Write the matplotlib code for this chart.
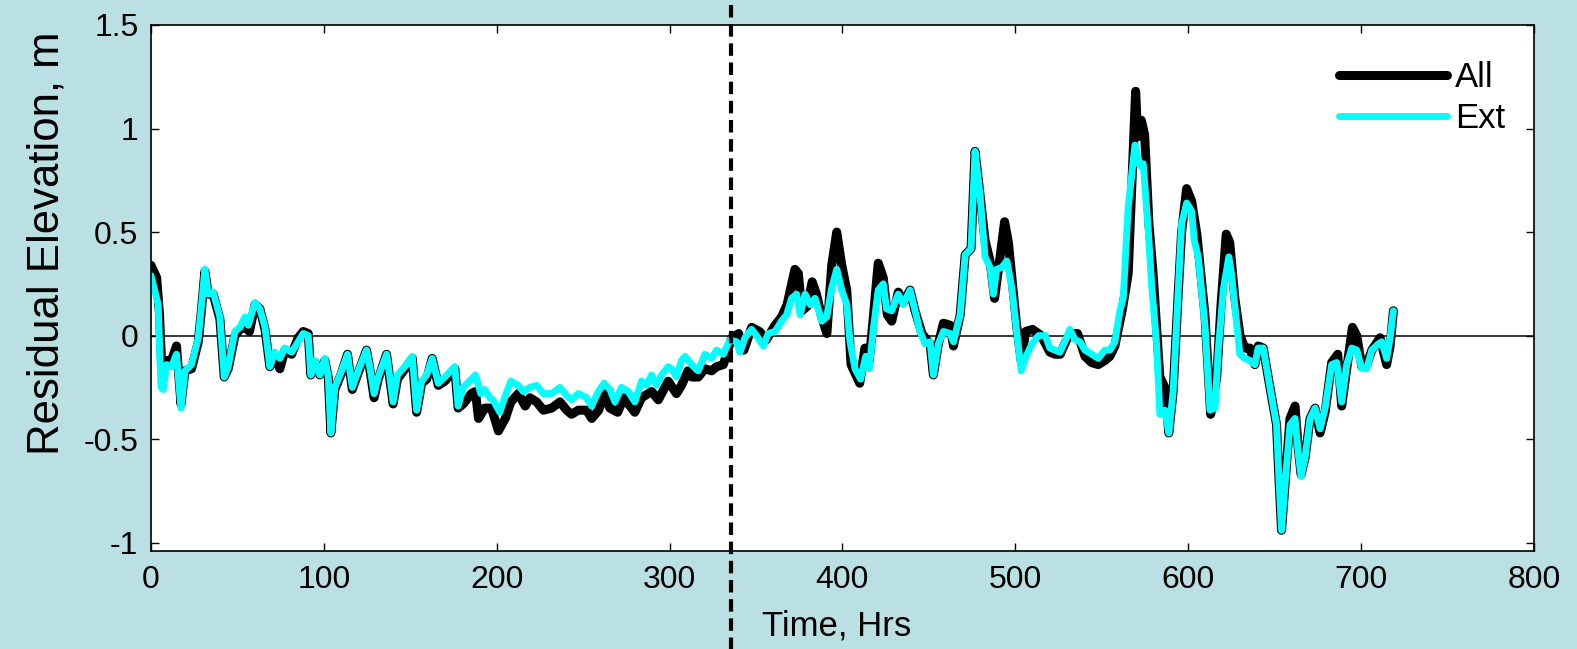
import matplotlib
matplotlib.use("Agg")
import matplotlib.pyplot as plt

plt.rcParams['font.family'] = ['Liberation Sans', 'DejaVu Sans']

# Ext series (hours, residual m)
ext_t = [0, 4.2, 5.8, 7.1, 9.0, 11.9, 14.8, 17.4, 19.7, 23.5, 27.4, 29.3, 31.2, 33.2, 36.0,
         39.9, 42.4, 44.7, 48.6, 51.5, 54.4, 56.3, 60.2, 63.0, 66.0, 68.8, 71.7, 74.6, 77.5,
         81.4, 85.2, 88.1, 91.0, 92.5, 94.9, 97.7, 100.6, 102.6, 104.1, 106.4, 110.3, 113.7,
         116.5, 119.9, 124.7, 126.6, 129.1, 131.5, 136.3, 138.2, 140.1, 142.6, 147.9, 151.2,
         153.7, 156.6, 159.5, 162.7, 166.2, 170.0, 175.8, 177.7, 180.6, 185.4, 187.7, 190.8,
         193.1, 196.0, 197.9, 201.8, 205.0, 208.2, 212.5, 215.4, 219.2, 223.1, 227.0, 231.8,
         236.6, 240.5, 243.3, 247.2, 252.0, 254.9, 258.8, 262.2, 265.5, 268.4, 272.2, 276.1,
         279.9, 283.8, 286.7, 289.6, 292.5, 295.4, 299.2, 301.1, 304.0, 306.9, 309.0, 312.7,
         316.6, 320.4, 324.3, 327.2, 331.1, 334.9, 338.8, 340.7, 343.6, 347.5, 350.3, 354.2,
         357.1, 361.0, 364.8, 367.7, 370.6, 373.5, 375.5, 378.4, 381.3, 384.2, 388.0, 390.9,
         393.8, 396.7, 399.6, 402.5, 404.4, 407.3, 410.5, 413.5, 415.5, 418.0, 420.7, 423.6,
         425.5, 428.5, 432.3, 435.2, 439.1, 442.0, 444.9, 447.8, 450.7, 452.6, 455.5, 458.4,
         462.3, 464.2, 468.1, 471.0, 474.4, 476.7, 479.6, 482.5, 485.4, 487.3, 489.2, 492.2,
         495.1, 498.0, 500.9, 503.4, 505.7, 509.6, 513.4, 517.3, 520.0, 522.9, 525.8, 528.6,
         531.6, 534.5, 537.4, 540.3, 544.1, 548.0, 551.8, 554.7, 557.6, 560.5, 562.4, 565.3,
         569.2, 572.1, 574.0, 576.9, 578.8, 581.7, 583.6, 586.5, 588.8, 591.3, 594.2, 596.2,
         599.1, 602.0, 603.5, 605.8, 609.7, 612.6, 615.5, 617.4, 620.3, 623.5, 625.0, 627.0,
         629.9, 632.8, 635.7, 638.6, 640.5, 643.4, 647.3, 651.1, 652.5, 654.0, 656.0, 658.9,
         661.8, 663.7, 665.3, 667.6, 670.5, 673.4, 676.3, 679.2, 683.0, 685.9, 688.8, 691.7,
         694.6, 697.5, 700.4, 703.3, 706.2, 710.0, 712.0, 714.8, 716.8, 718.7]
ext_v = [0.29, 0.15, -0.25, -0.26, -0.14, -0.15, -0.09, -0.35, -0.17, -0.14, -0.01, 0.15, 0.32,
         0.20, 0.21, 0.09, -0.20, -0.15, 0.02, 0.04, 0.09, 0.05, 0.16, 0.13, 0.04, -0.15, -0.08,
         -0.11, -0.06, -0.08, -0.03, 0.01, 0.0, -0.19, -0.12, -0.19, -0.11, -0.20, -0.47, -0.25,
         -0.17, -0.09, -0.25, -0.17, -0.07, -0.15, -0.28, -0.20, -0.09, -0.20, -0.32, -0.19,
         -0.14, -0.10, -0.36, -0.22, -0.19, -0.11, -0.23, -0.20, -0.15, -0.34, -0.25, -0.21,
         -0.19, -0.28, -0.26, -0.30, -0.31, -0.37, -0.29, -0.22, -0.24, -0.27, -0.25, -0.24,
         -0.28, -0.28, -0.25, -0.29, -0.31, -0.28, -0.30, -0.34, -0.27, -0.23, -0.26, -0.32,
         -0.25, -0.27, -0.32, -0.22, -0.24, -0.19, -0.24, -0.19, -0.15, -0.16, -0.20, -0.12,
         -0.10, -0.14, -0.17, -0.09, -0.11, -0.07, -0.09, -0.02, -0.03, -0.08, -0.01, 0.03, 0.0,
         -0.05, 0.01, 0.02, 0.07, 0.10, 0.18, 0.20, 0.10, 0.20, 0.15, 0.18, 0.07, 0.09, 0.23,
         0.32, 0.22, 0.15, -0.03, -0.16, -0.21, -0.10, -0.16, 0.04, 0.22, 0.25, 0.13, 0.12,
         0.20, 0.15, 0.22, 0.12, 0.02, -0.04, -0.03, -0.19, -0.04, 0.02, 0.01, -0.03, 0.10,
         0.39, 0.42, 0.89, 0.68, 0.38, 0.33, 0.20, 0.32, 0.33, 0.36, 0.23, 0.01, -0.17, -0.11,
         -0.04, 0.0, 0.0, -0.06, -0.07, -0.08, -0.03, 0.03, -0.02, -0.03, -0.07, -0.09, -0.11,
         -0.07, -0.07, -0.03, 0.12, 0.18, 0.62, 0.92, 0.82, 0.83, 0.51, 0.25, -0.04, -0.38,
         -0.36, -0.47, -0.27, 0.21, 0.54, 0.64, 0.60, 0.46, 0.38, 0.05, -0.36, -0.35, -0.07,
         0.22, 0.38, 0.30, 0.14, -0.09, -0.11, -0.12, -0.14, -0.06, -0.06, -0.25, -0.43, -0.69,
         -0.94, -0.72, -0.43, -0.40, -0.57, -0.68, -0.59, -0.40, -0.35, -0.45, -0.35, -0.14,
         -0.13, -0.32, -0.14, -0.06, -0.07, -0.16, -0.16, -0.07, -0.04, -0.03, -0.11, -0.01, 0.12]

# All series
all_t = [0, 3.3, 5.0, 6.2, 9.0, 11.9, 14.8, 17.4, 19.7, 23.5, 27.4, 29.3, 31.2, 33.2, 36.0,
         39.9, 42.4, 44.7, 48.6, 51.5, 54.4, 57.0, 60.2, 63.0, 66.0, 68.8, 71.7, 74.6, 77.5,
         81.4, 85.2, 88.1, 91.0, 92.5, 94.9, 97.7, 100.6, 102.6, 104.1, 106.4, 110.3, 113.7,
         116.5, 119.9, 124.7, 126.6, 129.1, 131.5, 136.3, 138.2, 140.1, 142.6, 147.9, 151.2,
         153.7, 156.6, 159.5, 162.7, 166.2, 170.0, 175.8, 177.7, 180.6, 185.4, 187.7, 189.5,
         193.1, 197.0, 201.0, 205.0, 208.2, 212.5, 216.5, 219.2, 223.1, 227.0, 231.8, 236.6,
         240.5, 243.3, 247.2, 252.0, 255.0, 259.0, 262.0, 265.5, 270.0, 273.5, 279.9, 283.8,
         289.6, 293.5, 299.2, 304.0, 306.9, 310.7, 313.0, 316.6, 320.4, 324.3, 327.2, 331.1,
         333.0, 336.0, 340.0, 343.0, 347.5, 352.0, 356.0, 361.0, 364.8, 368.0, 372.5, 374.5,
         376.5, 379.5, 382.5, 385.0, 388.0, 391.0, 393.8, 396.7, 399.6, 402.5, 405.0, 410.0,
         413.0, 415.5, 418.0, 420.7, 423.6, 426.0, 428.5, 432.3, 435.2, 439.1, 442.0, 446.0,
         450.7, 452.6, 455.5, 458.4, 462.3, 464.2, 468.1, 471.0, 474.4, 476.7, 479.6, 482.5,
         485.4, 488.0, 491.5, 493.8, 496.0, 498.0, 500.9, 503.4, 506.0, 510.0, 515.0, 520.0,
         523.0, 526.0, 528.6, 531.6, 536.0, 540.3, 544.1, 548.0, 551.8, 554.7, 557.6, 562.0,
         565.3, 568.0, 569.6, 570.8, 572.9, 574.8, 577.3, 579.7, 583.6, 586.5, 588.8, 591.3,
         594.2, 596.2, 599.1, 602.0, 605.0, 609.7, 613.0, 616.5, 619.0, 622.0, 624.0, 627.0,
         630.0, 632.8, 635.7, 638.6, 640.5, 643.4, 647.3, 651.1, 652.5, 654.0, 656.0, 658.9,
         661.8, 663.7, 665.3, 667.6, 670.5, 673.4, 676.3, 679.2, 683.0, 686.5, 688.8, 691.7,
         695.0, 697.5, 700.4, 703.3, 706.2, 711.0, 714.8, 716.8, 718.7]
all_v = [0.34, 0.28, 0.10, -0.14, -0.12, -0.12, -0.05, -0.33, -0.17, -0.16, -0.03, 0.13, 0.31,
         0.20, 0.20, 0.08, -0.20, -0.16, 0.0, 0.03, 0.04, 0.02, 0.15, 0.13, 0.03, -0.15, -0.10,
         -0.16, -0.07, -0.09, -0.01, 0.02, 0.01, -0.19, -0.13, -0.19, -0.12, -0.20, -0.47, -0.26,
         -0.18, -0.09, -0.26, -0.18, -0.07, -0.16, -0.30, -0.21, -0.09, -0.21, -0.33, -0.21,
         -0.15, -0.11, -0.37, -0.23, -0.21, -0.11, -0.24, -0.22, -0.16, -0.35, -0.33, -0.28,
         -0.27, -0.40, -0.35, -0.35, -0.46, -0.40, -0.32, -0.28, -0.34, -0.30, -0.32, -0.36,
         -0.35, -0.32, -0.36, -0.38, -0.36, -0.36, -0.40, -0.36, -0.28, -0.35, -0.37, -0.30,
         -0.37, -0.30, -0.27, -0.31, -0.22, -0.28, -0.24, -0.17, -0.20, -0.20, -0.16, -0.17,
         -0.15, -0.14, -0.09, -0.01, 0.01, -0.07, 0.04, 0.02, -0.02, 0.05, 0.09, 0.15, 0.32,
         0.30, 0.12, 0.14, 0.26, 0.20, 0.09, 0.01, 0.34, 0.50, 0.34, 0.22, -0.14, -0.23, -0.06,
         -0.12, 0.10, 0.35, 0.28, 0.10, 0.07, 0.21, 0.16, 0.22, 0.12, 0.01, -0.04, -0.19, -0.04,
         0.06, 0.05, -0.05, 0.10, 0.39, 0.42, 0.89, 0.68, 0.46, 0.36, 0.18, 0.40, 0.55, 0.45,
         0.28, 0.04, -0.12, 0.02, 0.03, 0.0, -0.08, -0.09, -0.09, -0.04, 0.01, 0.01, -0.10,
         -0.13, -0.14, -0.12, -0.10, -0.05, 0.13, 0.30, 0.86, 1.18, 0.96, 1.04, 0.97, 0.54,
         0.30, -0.20, -0.25, -0.47, -0.27, 0.20, 0.50, 0.71, 0.65, 0.49, 0.10, -0.38, -0.20,
         0.15, 0.49, 0.45, 0.18, 0.0, -0.06, -0.06, -0.14, -0.05, -0.06, -0.25, -0.43, -0.69,
         -0.94, -0.72, -0.40, -0.34, -0.55, -0.67, -0.59, -0.40, -0.35, -0.47, -0.37, -0.13,
         -0.09, -0.34, -0.16, 0.04, 0.0, -0.15, -0.14, -0.07, -0.01, -0.14, -0.05, 0.12]

split_hr = 335.5
bg = '#BAE0E3'

fig = plt.figure(figsize=(15.77, 6.49), dpi=100, facecolor=bg)
ax = fig.add_axes([0.0957, 0.151, 0.877, 0.8105])
ax.set_facecolor('white')

ax.plot(all_t, all_v, color='black', lw=6.5, solid_joinstyle='round', solid_capstyle='round', label='All')
ax.plot(ext_t, ext_v, color='#00FFFF', lw=5.0, solid_joinstyle='round', solid_capstyle='round', label='Ext')
ax.axhline(0, color='black', lw=1.1, zorder=1)
ax.axvline(split_hr, ymin=-0.2, ymax=1.1, color='black', lw=3, ls=(0, (3, 1.6)), clip_on=False)

ax.set_xlim(0, 800)
ax.set_ylim(-1.04, 1.5)
ax.set_xticks([0, 100, 200, 300, 400, 500, 600, 700, 800])
ax.set_yticks([-1, -0.5, 0, 0.5, 1, 1.5])
ax.set_yticklabels(['-1', '-0.5', '0', '0.5', '1', '1.5'])
ax.tick_params(direction='in', top=True, right=True, length=6, width=1, labelsize=23)
ax.tick_params(axis='x', pad=10)
ax.tick_params(axis='y', pad=9)
for s in ax.spines.values():
    s.set_linewidth(1.2)

ax.set_xlabel('Time, Hrs', fontsize=25)
ax.xaxis.set_label_coords(0.496, -0.112)
ax.set_ylabel('Residual Elevation, m', fontsize=31.5)
ax.yaxis.set_label_coords(-0.060, 0.585)

ax.legend(loc='upper right', bbox_to_anchor=(1.002, 0.99), frameon=False, fontsize=25,
          handlelength=3.1, handletextpad=0.25, labelspacing=0.22)

fig.savefig('out.png', dpi=100, facecolor=bg)
